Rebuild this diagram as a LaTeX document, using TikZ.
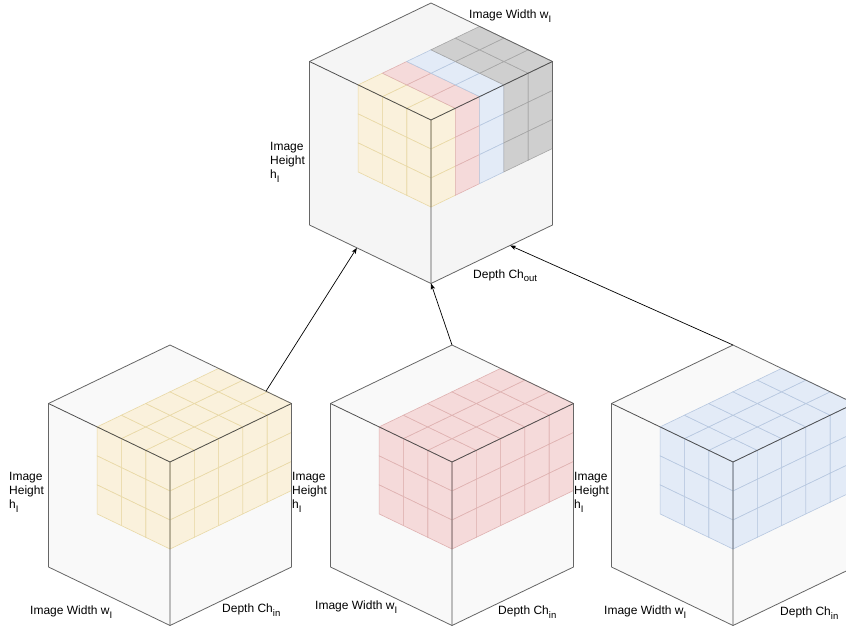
\documentclass[tikz,border=0pt]{standalone}
\usepackage{fontspec}
\setmainfont{Liberation Sans}
\usetikzlibrary{arrows.meta,calc}

\definecolor{cubeline}{HTML}{666666}
\definecolor{frontline}{HTML}{505050}
\definecolor{topface}{HTML}{F5F5F5}
\definecolor{inface}{HTML}{F9F9F9}
\definecolor{yfill}{HTML}{FAF1DC}
\definecolor{yline}{HTML}{E9D9A6}
\definecolor{rfill}{HTML}{F5DADA}
\definecolor{rline}{HTML}{DFB2B1}
\definecolor{bfill}{HTML}{E3EBF7}
\definecolor{bline}{HTML}{B7C8E0}
\definecolor{gfill}{HTML}{CFCFCF}
\definecolor{gline}{HTML}{A6A6A6}

% lowered index text
\newcommand\lowidx[1]{\raisebox{-0.28em}{\fontsize{9.5}{9.5}\selectfont #1}}

% outer iso cube with front vertex at (#2,#3); named corner coordinates #1F, #1T, ...
\newcommand\cubebody[4]{%
  \coordinate (#1F)  at (#2,#3);
  \coordinate (#1T)  at (#2,#3-117);
  \coordinate (#1L)  at (#2-121.5,#3-58.5);
  \coordinate (#1R)  at (#2+121.5,#3-58.5);
  \coordinate (#1BL) at (#2-121.5,#3+105);
  \coordinate (#1BF) at (#2,#3+163.5);
  \coordinate (#1BR) at (#2+121.5,#3+105);
  \fill[#4] (#1T)--(#1R)--(#1BR)--(#1BF)--(#1BL)--(#1L)--cycle;
}
% visible cube edges, drawn over the cells
\newcommand\cubeedges[1]{%
  \draw[cubeedge] (#1T)--(#1R)--(#1BR)--(#1BF)--(#1BL)--(#1L)--cycle;
  \draw[frontedge] (#1L)--(#1F)--(#1R) (#1F)--(#1BF);
}
% block of 3x5x3 cells whose front top corner is (#1,#2); column styles c0..c4
\newcommand\cellblock[2]{%
  \foreach \i in {0,...,4}{
    \foreach \j in {0,1,2}{
      \filldraw[c\i] (#1+24.3*\i-24.3*\j,#2-11.7*\i-11.7*\j)
        -- ++(24.3,-11.7) -- ++(-24.3,-11.7) -- ++(-24.3,11.7) -- cycle;
    }
    \foreach \k in {0,1,2}{
      \filldraw[c\i] (#1+24.3*\i,#2-11.7*\i+29*\k)
        -- ++(24.3,-11.7) -- ++(0,29) -- ++(-24.3,11.7) -- cycle;
    }
  }
  \foreach \j in {0,1,2}{
    \foreach \k in {0,1,2}{
      \filldraw[c0] (#1-24.3*\j,#2-11.7*\j+29*\k)
        -- ++(-24.3,-11.7) -- ++(0,29) -- ++(24.3,11.7) -- cycle;
    }
  }
}

\begin{document}
\begin{tikzpicture}[x=1pt,y=-1pt,
  cubeedge/.style={draw=cubeline,line width=0.8pt,line join=round},
  frontedge/.style={draw=frontline,line width=0.8pt},
  ycell/.style={fill=yfill,draw=yline,line width=0.6pt},
  rcell/.style={fill=rfill,draw=rline,line width=0.6pt},
  bcell/.style={fill=bfill,draw=bline,line width=0.6pt},
  gcell/.style={fill=gfill,draw=gline,line width=0.6pt},
  lbl/.style={inner sep=0pt,font=\fontsize{12}{14.4}\selectfont,align=left},
  link/.style={draw=black,line width=0.7pt,-{Stealth[length=6pt,width=4.5pt,inset=1.5pt]}}]
\useasboundingbox (0,0) rectangle (846,627);

% output volume
\begin{scope}[c0/.style=ycell,c1/.style=rcell,c2/.style=bcell,c3/.style=gcell,c4/.style=gcell]
  \cubebody{out}{431}{120}{topface}
  \cellblock{431}{120}
  \cubeedges{out}
\end{scope}

% input volumes
\begin{scope}[c0/.style=ycell,c1/.style=ycell,c2/.style=ycell,c3/.style=ycell,c4/.style=ycell]
  \cubebody{ina}{170}{462}{inface}
  \cellblock{170}{462}
  \cubeedges{ina}
\end{scope}
\begin{scope}[c0/.style=rcell,c1/.style=rcell,c2/.style=rcell,c3/.style=rcell,c4/.style=rcell]
  \cubebody{inb}{452}{462}{inface}
  \cellblock{452}{462}
  \cubeedges{inb}
\end{scope}
\begin{scope}[c0/.style=bcell,c1/.style=bcell,c2/.style=bcell,c3/.style=bcell,c4/.style=bcell]
  \cubebody{inc}{733}{462}{inface}
  \cellblock{733}{462}
  \cubeedges{inc}
\end{scope}

% labels
\node[lbl,anchor=west] (outw) at (469,16) {Image Width w\lowidx{I}};
\node[lbl,anchor=west] (outh) at (270,162) {Image\\Height\\h\lowidx{I}};
\node[lbl,anchor=west] (outd) at (473,276) {Depth Ch\lowidx{out}};

\node[lbl,anchor=west] (inah) at (9,492) {Image\\Height\\h\lowidx{I}};
\node[lbl,anchor=west] (inaw) at (30,612) {Image Width w\lowidx{I}};
\node[lbl,anchor=west] (inad) at (222,610) {Depth Ch\lowidx{in}};

\node[lbl,anchor=west] (inbh) at (292,492) {Image\\Height\\h\lowidx{I}};
\node[lbl,anchor=west] (inbw) at (315,607) {Image Width w\lowidx{I}};
\node[lbl,anchor=west] (inbd) at (498,612) {Depth Ch\lowidx{in}};

\node[lbl,anchor=west] (inch) at (574,492) {Image\\Height\\h\lowidx{I}};
\node[lbl,anchor=west] (incw) at (604,612) {Image Width w\lowidx{I}};
\node[lbl,anchor=west] (incd) at (780,613) {Depth Ch\lowidx{in}};

% connectors
\coordinate (srcA) at ($(inaT)!0.79!(inaR)$);
\coordinate (dstA) at ($(outBL)!0.39!(outBF)$);
\coordinate (dstC) at ($(outBF)!0.65!(outBR)$);
\draw[link] (srcA) -- (dstA);
\draw[link] (inbT) -- (outBF);
\draw[link] (incT) -- (dstC);
\end{tikzpicture}
\end{document}
